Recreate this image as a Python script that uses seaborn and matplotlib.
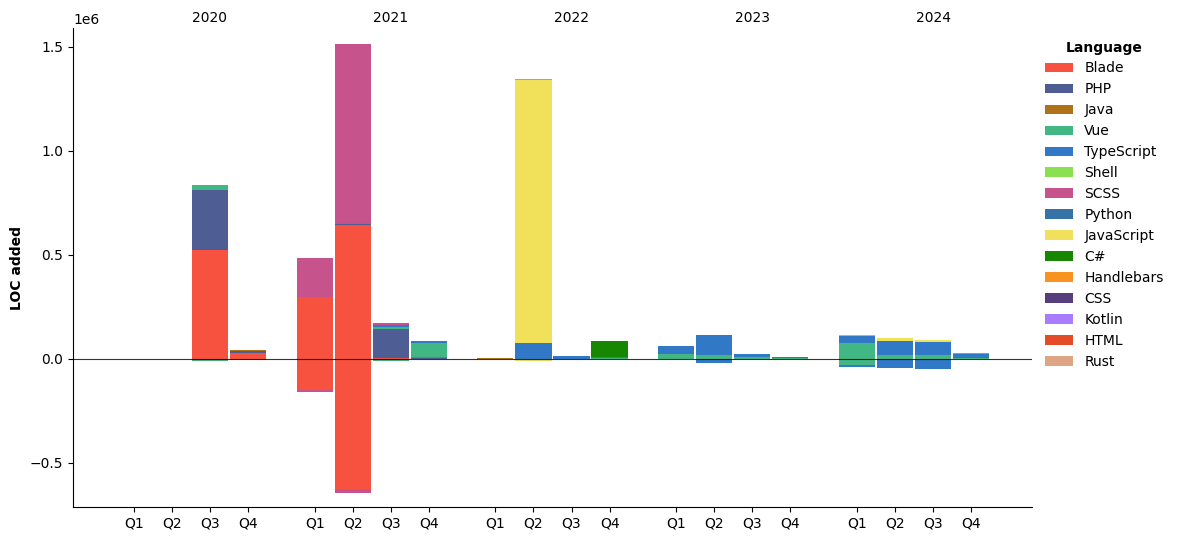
import numpy as np
import pandas as pd
import matplotlib
matplotlib.use("Agg")
import matplotlib.pyplot as plt
import matplotlib.transforms as mtransforms
from matplotlib.patches import Patch
import seaborn as sns

years = ["2020", "2021", "2022", "2023", "2024"]
quarters = ["Q1", "Q2", "Q3", "Q4"]

languages = ["Blade", "PHP", "Java", "Vue", "TypeScript", "Shell", "SCSS", "Python",
             "JavaScript", "C#", "Handlebars", "CSS", "Kotlin", "HTML", "Rust"]
colors = ["#f7523f", "#4F5D95", "#b07219", "#41b883", "#3178c6", "#89e051", "#c6538c",
          "#3572A5", "#f1e05a", "#178600", "#f7931e", "#563d7c", "#A97BFF", "#e34c26",
          "#dea584"]

# LOC added per quarter (thousands), 2020Q1 .. 2024Q4
blade_add = [0, 0, 524, 29,   298, 644, 6, 0,   0, 0, 0, 0,   0, 0, 0, 0,   0, 0, 0, 0]
php_add = [0, 0, 289, 11,   0, 4, 136, 6,   0, 0, 0, 0,   0, 0, 0, 0,   0, 0, 0, 0]
java_add = [0, 0, 0, 5,   0, 4, 0, 5,   5, 0, 0, 0,   0, 0, 0, 0,   0, 0, 0, 0]
vue_add = [0, 0, 24, 0,   0, 0, 13, 67,   0, 0, 0, 6,   26, 21, 11, 6,   78, 21, 21, 6]
ts_add = [0, 0, 0, 0,   0, 0, 10, 10,   0, 77, 14, 5,   37, 94, 13, 5,   34, 67, 58, 19]
shell_add = [0] * 20
scss_add = [0, 0, 0, 0,   188, 860, 10, 0,   0, 0, 0, 0,   0, 0, 0, 0,   0, 0, 0, 0]
python_add = [0] * 20
js_add = [0, 0, 0, 0,   0, 0, 0, 0,   0, 1264, 0, 0,   0, 0, 0, 0,   0, 14, 10, 0]
csharp_add = [0, 0, 0, 0,   0, 0, 0, 0,   0, 0, 0, 75,   0, 0, 0, 0,   0, 0, 0, 0]
hbs_add = [0, 0, 0, 0,   0, 0, 0, 0,   0, 5, 0, 0,   0, 0, 0, 0,   0, 0, 0, 0]
css_add = [0] * 20
kotlin_add = [0, 0, 0, 0,   0, 0, 0, 0,   0, 0, 0, 0,   0, 0, 0, 0,   0, 0, 0, 5]
html_add = [0] * 20
rust_add = [0, 0, 0, 0,   0, 0, 0, 0,   0, 0, 0, 0,   0, 0, 0, 0,   5, 0, 0, 0]

# LOC removed per quarter (thousands, negative)
blade_rem = [0, 0, -5, -6,   -148, -625, 0, 0,   0, 0, 0, 0,   0, 0, 0, 0,   0, 0, 0, 0]
vue_rem = [0, 0, -5, 0,   0, 0, -12, 0,   0, 0, 0, 0,   0, 0, 0, 0,   -27, 0, 0, 0]
ts_rem = [0, 0, 0, 0,   0, 0, 0, 0,   0, 0, 0, 0,   0, -18, 0, 0,   -10, -42, -48, 0]
scss_rem = [0, 0, 0, 0,   -10, -18, 0, 0,   0, 0, 0, 0,   0, 0, 0, 0,   0, 0, 0, 0]
js_rem = [0, 0, 0, 0,   0, 0, 0, 0,   0, -8, 0, 0,   0, 0, 0, 0,   0, 0, 0, 0]

added = [blade_add, php_add, java_add, vue_add, ts_add, shell_add, scss_add, python_add,
         js_add, csharp_add, hbs_add, css_add, kotlin_add, html_add, rust_add]
zeros = [0] * 20
removed_map = {"Blade": blade_rem, "Vue": vue_rem, "TypeScript": ts_rem,
               "SCSS": scss_rem, "JavaScript": js_rem}

year_gap = 4.75
positions = [yi * year_gap + qi for yi in range(len(years)) for qi in range(len(quarters))]

def long_frame(series_list):
    rows = []
    for lang, vals in zip(languages, series_list):
        for p, v in zip(positions, vals):
            rows.append({"pos": p, "Language": lang, "loc": v * 1000.0})
    return pd.DataFrame(rows)

df_add = long_frame(added)
df_rem = long_frame([removed_map.get(l, zeros) for l in languages])

edges = np.unique(np.round(np.concatenate([np.array(positions) - 0.5,
                                           np.array(positions) + 0.5]), 6)).tolist()

sns.set_style("ticks")
plt.rcParams["font.family"] = ["DejaVu Sans"]
plt.rcParams.update({"text.color": "black", "axes.labelcolor": "black",
                     "xtick.color": "black", "ytick.color": "black",
                     "axes.edgecolor": "black"})

fig = plt.figure(figsize=(11.79, 5.42), dpi=100)
ax = fig.add_axes([0.0619, 0.0646, 0.8134, 0.8837])

palette = dict(zip(languages, colors))
for df in (df_add, df_rem):
    sns.histplot(data=df, x="pos", weights="loc", hue="Language",
                 hue_order=languages[::-1], palette=palette, multiple="stack",
                 bins=edges, shrink=0.95, element="bars", alpha=1,
                 linewidth=0, edgecolor="none", legend=False, ax=ax)

ax.axhline(0, color="black", lw=0.8, alpha=0.8)

ax.set_xlim(-1.6, 4 * year_gap + 3 + 1.6)
ax.set_ylim(-0.712e6, 1.591e6)
ax.set_xticks(positions)
ax.set_xticklabels(quarters * len(years))
ax.set_xlabel("")
ax.set_ylabel("LOC added", fontweight="bold", fontsize=10)
ax.tick_params(labelsize=10)
sns.despine(ax=ax)

trans = mtransforms.blended_transform_factory(ax.transData, ax.transAxes)
for yi, yr in enumerate(years):
    ax.text(yi * year_gap + 2, 1.007, yr, transform=trans, ha="center",
            va="bottom", fontsize=10)

handles = [Patch(facecolor=c, edgecolor="none", label=l) for l, c in zip(languages, colors)]
ax.legend(handles=handles, title="Language", loc="upper left",
          bbox_to_anchor=(1.001, 1.0), frameon=False,
          title_fontproperties={"weight": "bold", "size": 10}, fontsize=10)

fig.savefig("out.png", dpi=100)
